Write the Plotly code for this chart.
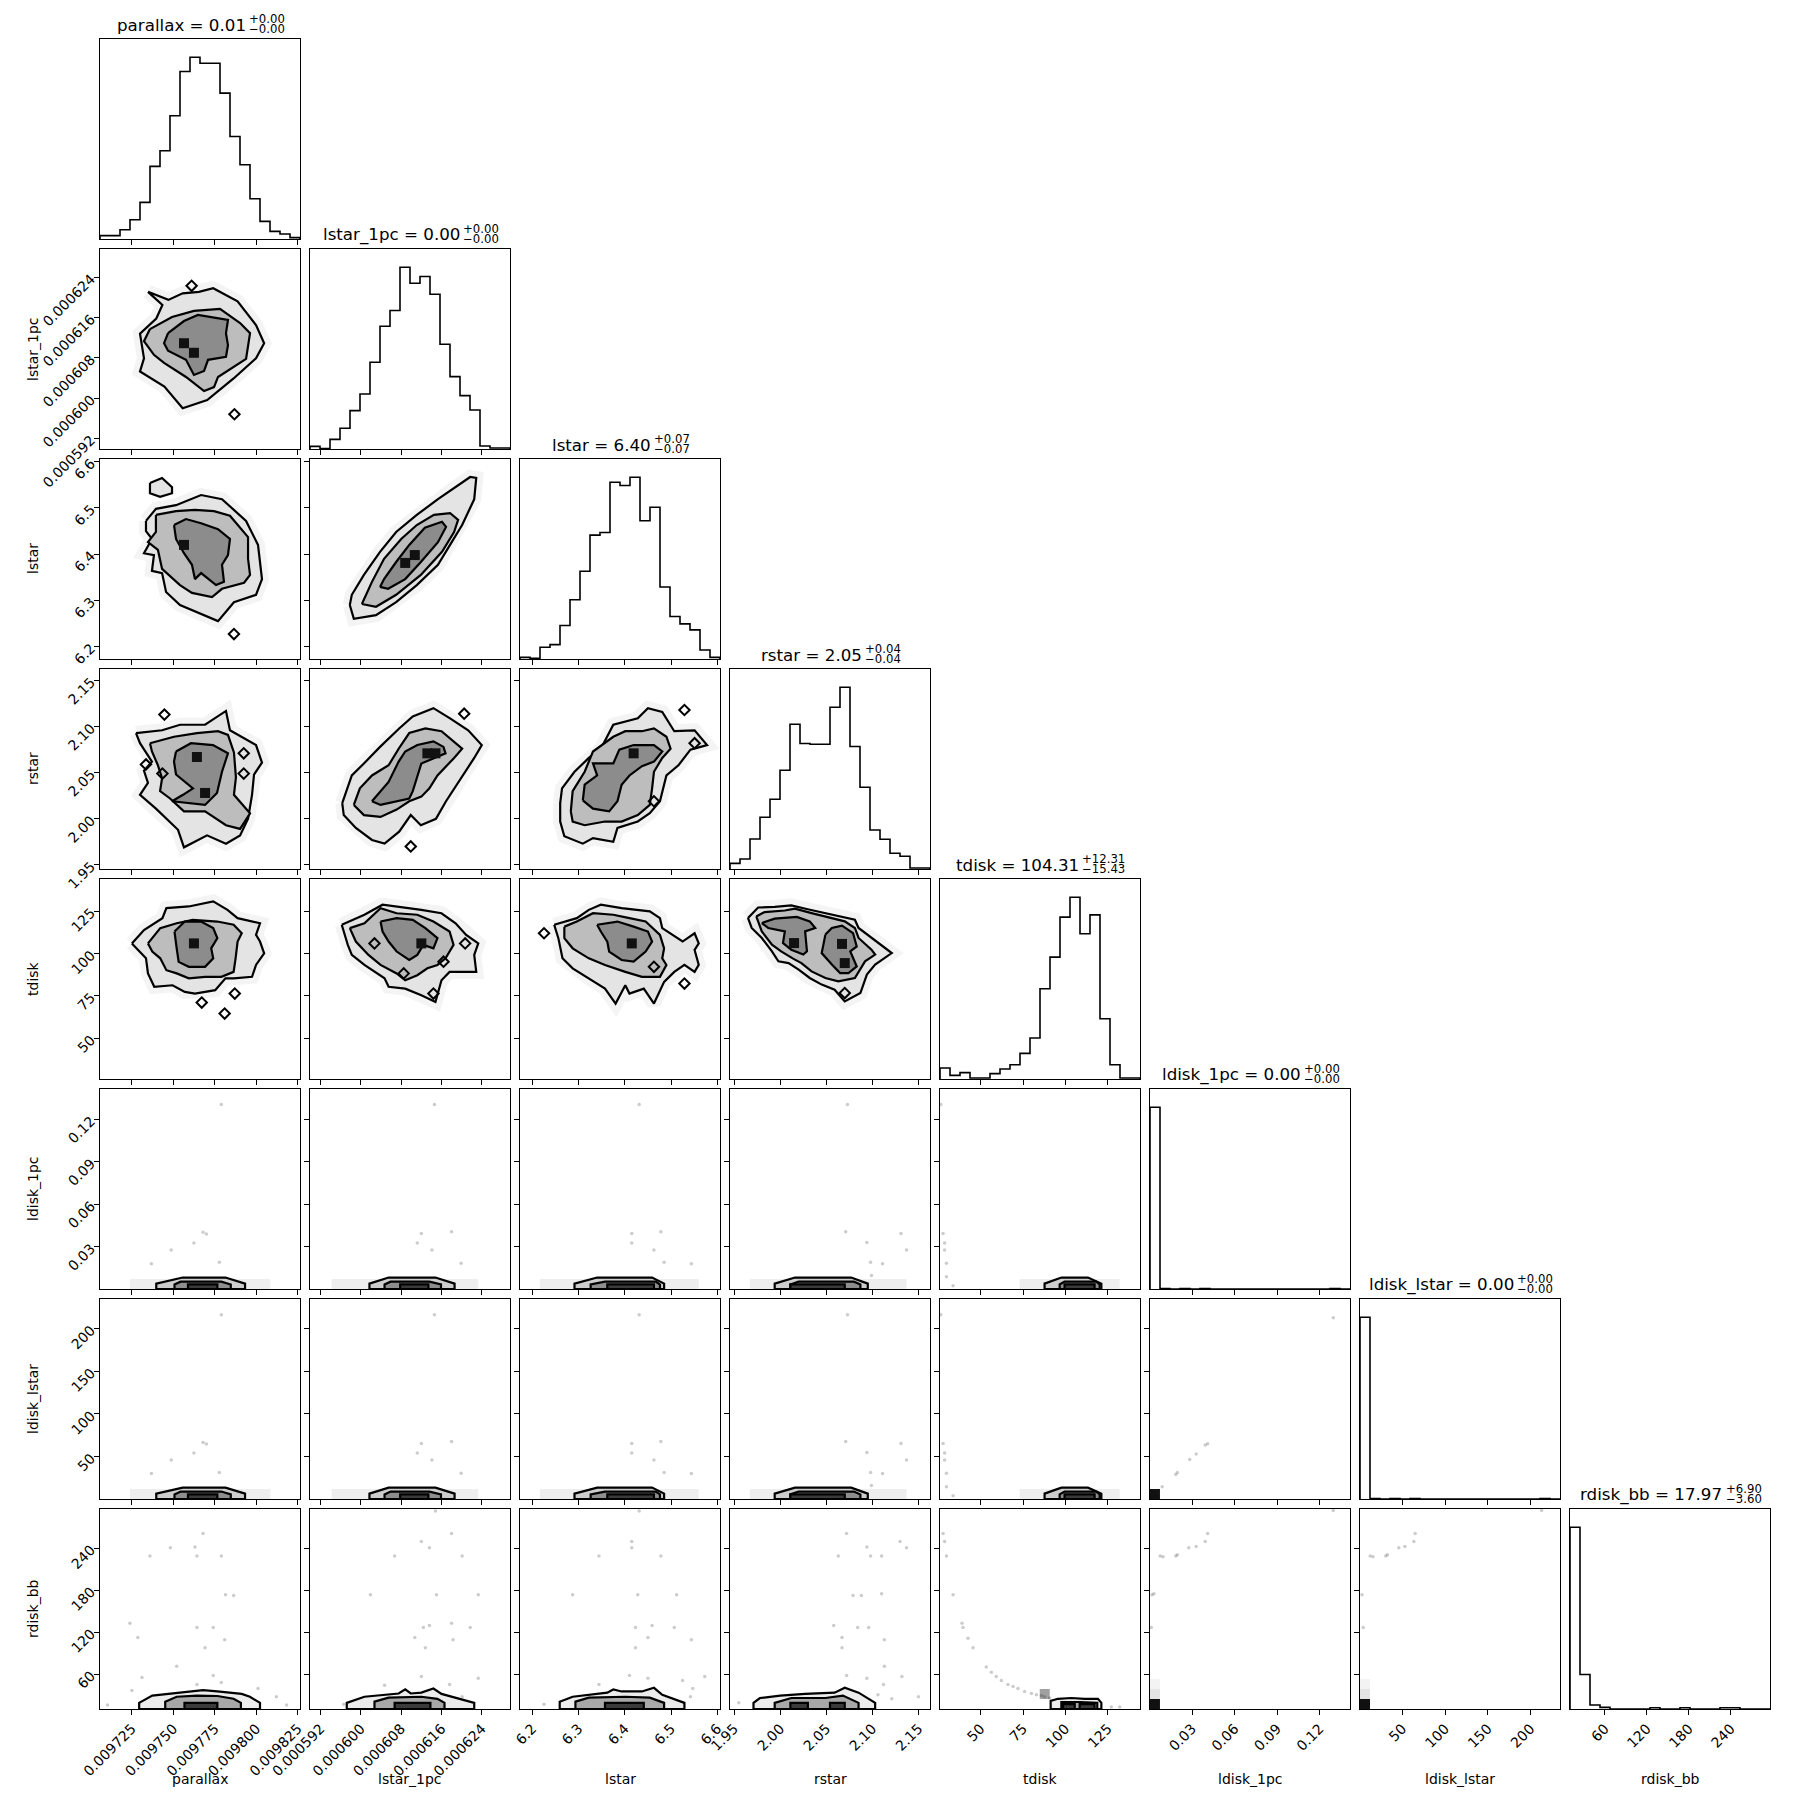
import numpy as np
import plotly.graph_objects as go

# page body has an 8 px margin, so the figure is drawn 8 px in from the window corner
OFF = 8
FW = 1809 - 2 * OFF
FONT = "DejaVu Sans"


def px(x):
    return (x - OFF) / FW


def py(y):
    return 1 - (y - OFF) / FW


names = ["parallax", "lstar_1pc", "lstar", "rstar", "tdisk", "ldisk_1pc", "ldisk_lstar", "rdisk_bb"]

# axis limits (chain min / max)
lim_parallax = [0.0097058, 0.0098263]
lim_lstar_1pc = [0.0005899, 0.0006296]
lim_lstar = [6.173, 6.606]
lim_rstar = [1.9455, 2.1625]
lim_tdisk = [26.0, 144.0]
lim_ldisk_1pc = [0.0003, 0.1415]
lim_ldisk_lstar = [0.5, 234.5]
lim_rdisk_bb = [10.0, 296.0]

# ticks
tv_parallax = [0.009725, 0.00975, 0.009775, 0.0098, 0.009825]
tt_parallax = ["0.009725", "0.009750", "0.009775", "0.009800", "0.009825"]
tv_lstar_1pc = [0.000592, 0.0006, 0.000608, 0.000616, 0.000624]
tt_lstar_1pc = ["0.000592", "0.000600", "0.000608", "0.000616", "0.000624"]
tv_lstar = [6.2, 6.3, 6.4, 6.5, 6.6]
tt_lstar = ["6.2", "6.3", "6.4", "6.5", "6.6"]
tv_rstar = [1.95, 2.0, 2.05, 2.1, 2.15]
tt_rstar = ["1.95", "2.00", "2.05", "2.10", "2.15"]
tv_tdisk = [50, 75, 100, 125]
tt_tdisk = ["50", "75", "100", "125"]
tv_ldisk_1pc = [0.03, 0.06, 0.09, 0.12]
tt_ldisk_1pc = ["0.03", "0.06", "0.09", "0.12"]
tv_ldisk_lstar = [50, 100, 150, 200]
tt_ldisk_lstar = ["50", "100", "150", "200"]
tv_rdisk_bb = [60, 120, 180, 240]
tt_rdisk_bb = ["60", "120", "180", "240"]

# 1d histograms (20 bins over the axis limits)
hist_parallax = [10, 10, 28, 58, 110, 218, 265, 370, 503, 546, 528, 528, 438, 308, 223, 121, 53, 23, 15, 4]
hist_lstar_1pc = [8, 1, 29, 62, 115, 165, 260, 368, 415, 545, 497, 517, 464, 314, 217, 160, 117, 9, 3, 3]
hist_lstar = [5, 2, 35, 43, 100, 177, 262, 370, 378, 528, 518, 543, 413, 453, 215, 127, 105, 87, 27, 5]
hist_rstar = [17, 30, 90, 155, 209, 296, 434, 376, 374, 374, 485, 545, 367, 245, 117, 89, 47, 38, 3, 3]
hist_tdisk = [33, 11, 19, 3, 3, 16, 30, 43, 77, 123, 271, 366, 486, 546, 436, 493, 181, 43, 3, 3]
hist_ldisk_1pc = [447, 1, 0, 1, 0, 1, 0, 0, 0, 0, 0, 0, 0, 0, 0, 0, 0, 0, 1, 0]
hist_ldisk_lstar = [447, 1, 0, 1, 0, 1, 0, 0, 0, 0, 0, 0, 0, 0, 0, 0, 0, 0, 1, 0]
hist_rdisk_bb = [447, 85, 10, 4, 0, 0, 0, 0, 3, 0, 0, 3, 0, 0, 0, 3, 3, 0, 0, 0]

# titles: median and quantile offsets
q_mid = ["0.01", "0.00", "6.40", "2.05", "104.31", "0.00", "0.00", "17.97"]
q_up = ["0.00", "0.00", "0.07", "0.04", "12.31", "0.00", "0.00", "6.90"]
q_dn = ["0.00", "0.00", "0.07", "0.04", "15.43", "0.00", "0.00", "3.60"]

# ---- 2d contours, rows 1-4 (outer / middle / inner levels) ----
p10_outer_x = [0.0097347, 0.0097470, 0.0097556, 0.0097654, 0.0097740, 0.0097887, 0.0097998, 0.0098047, 0.0097998,
               0.0097863, 0.0097704, 0.0097556, 0.0097446, 0.0097299, 0.0097323, 0.0097299, 0.0097397, 0.0097434]
p10_outer_y = [0.0006211, 0.0006195, 0.0006208, 0.0006211, 0.0006218, 0.0006192, 0.0006145, 0.0006109, 0.0006079,
               0.0006039, 0.0005996, 0.0005980, 0.0006023, 0.0006053, 0.0006079, 0.0006128, 0.0006158, 0.0006185]
p10_mid_x = [0.0097359, 0.0097492, 0.0097624, 0.0097781, 0.0097902, 0.0097962, 0.0097938, 0.0097841, 0.0097769,
             0.0097745, 0.0097685, 0.0097576, 0.0097444, 0.0097383, 0.0097323]
p10_mid_y = [0.0006137, 0.0006161, 0.0006173, 0.0006177, 0.0006149, 0.0006129, 0.0006078, 0.0006058, 0.0006042,
             0.0006022, 0.0006014, 0.0006042, 0.0006070, 0.0006086, 0.0006113]
p10_in_x = [0.0097468, 0.0097564, 0.0097648, 0.0097829, 0.0097817, 0.0097829, 0.0097817, 0.0097709, 0.0097685,
            0.0097624, 0.0097576, 0.0097468, 0.0097444]
p10_in_y = [0.0006129, 0.0006153, 0.0006165, 0.0006155, 0.0006129, 0.0006105, 0.0006082, 0.0006076, 0.0006054,
            0.0006046, 0.0006076, 0.0006094, 0.0006109]

p20_outer_x = [0.0097335, 0.0097395, 0.0097516, 0.0097667, 0.0097793, 0.0097938, 0.0098010, 0.0098034, 0.0097998,
               0.0097865, 0.0097769, 0.0097540, 0.0097456, 0.0097432, 0.0097371, 0.0097383, 0.0097323, 0.0097371, 0.0097335]
p20_outer_y = [6.472, 6.498, 6.506, 6.528, 6.519, 6.472, 6.420, 6.346, 6.312, 6.296, 6.255, 6.290, 6.318, 6.359,
               6.364, 6.398, 6.402, 6.433, 6.450]
p20_isl_x = [0.0097359, 0.0097432, 0.0097492, 0.0097492, 0.0097420, 0.0097359]
p20_isl_y = [6.554, 6.565, 6.545, 6.532, 6.524, 6.532]
p20_mid_x = [0.0097395, 0.0097516, 0.0097630, 0.0097745, 0.0097841, 0.0097889, 0.0097950, 0.0097950, 0.0097962,
             0.0097926, 0.0097793, 0.0097733, 0.0097612, 0.0097540, 0.0097432, 0.0097407, 0.0097347, 0.0097395]
p20_mid_y = [6.485, 6.493, 6.496, 6.493, 6.483, 6.463, 6.437, 6.390, 6.355, 6.338, 6.325, 6.307, 6.316, 6.333,
             6.368, 6.409, 6.426, 6.448]
p20_in_x = [0.0097504, 0.0097576, 0.0097667, 0.0097769, 0.0097841, 0.0097829, 0.0097793, 0.0097805, 0.0097757,
            0.0097667, 0.0097630, 0.0097612, 0.0097564, 0.0097516]
p20_in_y = [6.463, 6.476, 6.467, 6.454, 6.433, 6.398, 6.377, 6.340, 6.333, 6.359, 6.346, 6.377, 6.402, 6.433]

p21_outer_x = [0.0005978, 0.0005986, 0.0006030, 0.0006070, 0.0006111, 0.0006153, 0.0006177, 0.0006201, 0.0006225,
               0.0006229, 0.0006217, 0.0006185, 0.0006153, 0.0006111, 0.0006070, 0.0006038, 0.0006006, 0.0005982]
p21_outer_y = [6.290, 6.260, 6.268, 6.296, 6.333, 6.377, 6.420, 6.463, 6.519, 6.565, 6.567, 6.543, 6.519, 6.485,
               6.448, 6.405, 6.355, 6.312]
p21_mid_x = [0.0006002, 0.0006030, 0.0006070, 0.0006119, 0.0006161, 0.0006185, 0.0006193, 0.0006177, 0.0006145,
             0.0006111, 0.0006080, 0.0006046, 0.0006022]
p21_mid_y = [6.292, 6.286, 6.312, 6.355, 6.405, 6.448, 6.474, 6.489, 6.485, 6.463, 6.433, 6.390, 6.340]
p21_in_x = [0.0006038, 0.0006054, 0.0006088, 0.0006119, 0.0006153, 0.0006169, 0.0006161, 0.0006127, 0.0006096,
            0.0006070, 0.0006046]
p21_in_y = [6.329, 6.325, 6.346, 6.383, 6.426, 6.459, 6.470, 6.457, 6.420, 6.383, 6.346]

p30_outer_x = [0.0097275, 0.0097432, 0.0097540, 0.0097691, 0.0097817, 0.0097841, 0.0097998, 0.0098034, 0.0097986,
               0.0097974, 0.0097950, 0.0097902, 0.0097817, 0.0097703, 0.0097564, 0.0097528, 0.0097395, 0.0097299,
               0.0097347, 0.0097323, 0.0097371, 0.0097299]
p30_outer_y = [2.093, 2.096, 2.102, 2.102, 2.117, 2.096, 2.080, 2.061, 2.048, 2.026, 2.000, 1.982, 1.973, 1.982,
               1.969, 1.988, 2.011, 2.026, 2.039, 2.052, 2.062, 2.082]
p30_mid_x = [0.0097359, 0.0097504, 0.0097642, 0.0097769, 0.0097829, 0.0097865, 0.0097877, 0.0097865, 0.0097962,
             0.0097902, 0.0097817, 0.0097691, 0.0097564, 0.0097480, 0.0097420, 0.0097432, 0.0097407, 0.0097371]
p30_mid_y = [2.082, 2.089, 2.093, 2.095, 2.091, 2.072, 2.045, 2.026, 2.006, 1.989, 1.993, 2.008, 2.008, 2.022,
             2.030, 2.044, 2.058, 2.073]
p30_in_x = [0.0097516, 0.0097606, 0.0097739, 0.0097829, 0.0097793, 0.0097763, 0.0097691, 0.0097582, 0.0097492,
            0.0097558, 0.0097618, 0.0097516, 0.0097504]
p30_in_y = [2.073, 2.082, 2.080, 2.071, 2.051, 2.028, 2.015, 2.017, 2.019, 2.026, 2.033, 2.048, 2.062]

p31_outer_x = [0.0005963, 0.0005982, 0.0006006, 0.0006038, 0.0006076, 0.0006103, 0.0006144, 0.0006177, 0.0006213,
               0.0006240, 0.0006225, 0.0006201, 0.0006169, 0.0006149, 0.0006119, 0.0006099, 0.0006076, 0.0006047,
               0.0006022, 0.0005990, 0.0005966]
p31_outer_y = [2.017, 2.047, 2.060, 2.078, 2.098, 2.111, 2.120, 2.109, 2.096, 2.080, 2.066, 2.046, 2.019, 2.000,
               1.993, 2.004, 1.986, 1.973, 1.977, 1.990, 2.004]
p31_mid_x = [0.0005986, 0.0005998, 0.0006022, 0.0006055, 0.0006075, 0.0006096, 0.0006128, 0.0006160, 0.0006201,
             0.0006185, 0.0006152, 0.0006136, 0.0006120, 0.0006096, 0.0006071, 0.0006039, 0.0006006]
p31_mid_y = [2.015, 2.033, 2.047, 2.058, 2.076, 2.093, 2.098, 2.095, 2.076, 2.066, 2.047, 2.033, 2.024, 2.019,
             2.010, 2.002, 2.004]
p31_in_x = [0.0006022, 0.0006055, 0.0006075, 0.0006088, 0.0006112, 0.0006144, 0.0006164, 0.0006168, 0.0006120,
            0.0006112, 0.0006103, 0.0006096, 0.0006071, 0.0006039]
p31_in_y = [2.019, 2.040, 2.062, 2.073, 2.080, 2.084, 2.078, 2.071, 2.060, 2.047, 2.030, 2.022, 2.019, 2.015]

p32_outer_x = [6.260, 6.264, 6.291, 6.322, 6.348, 6.375, 6.428, 6.450, 6.481, 6.507, 6.551, 6.578, 6.542, 6.516,
               6.490, 6.476, 6.454, 6.428, 6.384, 6.375, 6.331, 6.309, 6.269, 6.260]
p32_outer_y = [2.017, 2.033, 2.051, 2.066, 2.076, 2.102, 2.109, 2.120, 2.116, 2.095, 2.096, 2.080, 2.075, 2.058,
               2.047, 2.019, 2.006, 1.997, 1.990, 1.975, 1.979, 1.973, 1.981, 1.997]
p32_mid_x = [6.283, 6.287, 6.313, 6.331, 6.375, 6.401, 6.437, 6.463, 6.490, 6.499, 6.481, 6.463, 6.459, 6.454,
             6.428, 6.393, 6.357, 6.313, 6.287]
p32_mid_y = [2.008, 2.030, 2.051, 2.073, 2.089, 2.095, 2.095, 2.098, 2.089, 2.076, 2.066, 2.051, 2.033, 2.015,
             2.004, 1.997, 1.997, 1.993, 1.997]
p32_in_x = [6.309, 6.313, 6.340, 6.331, 6.375, 6.388, 6.419, 6.463, 6.481, 6.463, 6.437, 6.410, 6.393, 6.384,
            6.366, 6.331]
p32_in_y = [2.020, 2.037, 2.047, 2.060, 2.060, 2.075, 2.080, 2.080, 2.073, 2.062, 2.057, 2.047, 2.037, 2.019,
            2.008, 2.011]

p40_outer_x = [0.0097250, 0.0097323, 0.0097434, 0.0097458, 0.0097593, 0.0097740, 0.0097826, 0.0097887, 0.0098022,
               0.0097998, 0.0098022, 0.0098047, 0.0097998, 0.0097974, 0.0097863, 0.0097814, 0.0097752, 0.0097630,
               0.0097569, 0.0097495, 0.0097385, 0.0097347, 0.0097335]
p40_outer_y = [106.0, 113.9, 120.9, 126.8, 127.8, 130.8, 125.8, 120.9, 117.9, 111.0, 107.1, 100.1, 93.3, 86.3,
               85.4, 85.4, 78.4, 76.4, 77.4, 81.3, 80.4, 88.3, 97.2]
p40_mid_x = [0.0097347, 0.0097421, 0.0097520, 0.0097617, 0.0097765, 0.0097863, 0.0097912, 0.0097887, 0.0097875,
             0.0097863, 0.0097789, 0.0097691, 0.0097593, 0.0097520, 0.0097458, 0.0097421, 0.0097373]
p40_mid_y = [106.0, 115.0, 117.9, 119.9, 118.9, 117.0, 112.0, 107.1, 97.2, 89.2, 86.3, 86.3, 85.4, 88.3, 90.2,
             97.2, 101.2]
p40_in_x = [0.0097507, 0.0097569, 0.0097667, 0.0097740, 0.0097765, 0.0097728, 0.0097740, 0.0097691, 0.0097593,
            0.0097532, 0.0097520]
p40_in_y = [113.0, 118.9, 118.9, 115.0, 109.1, 103.1, 97.2, 92.2, 92.2, 95.1, 103.1]

p41_outer_x = [0.0005962, 0.0006007, 0.0006043, 0.0006071, 0.0006120, 0.0006160, 0.0006188, 0.0006209, 0.0006233,
               0.0006225, 0.0006229, 0.0006176, 0.0006160, 0.0006148, 0.0006120, 0.0006088, 0.0006055, 0.0006047,
               0.0006007, 0.0005982, 0.0005974]
p41_outer_y = [117.0, 122.9, 128.8, 127.8, 125.8, 123.8, 117.9, 111.0, 106.0, 99.2, 89.2, 89.2, 84.3, 71.4, 75.4,
               79.3, 80.4, 85.4, 93.3, 99.2, 105.1]
p41_mid_x = [0.0005978, 0.0006007, 0.0006039, 0.0006071, 0.0006112, 0.0006144, 0.0006176, 0.0006184, 0.0006168,
             0.0006152, 0.0006132, 0.0006112, 0.0006088, 0.0006071, 0.0006039, 0.0006015, 0.0005990]
p41_mid_y = [115.0, 117.9, 126.8, 123.8, 122.9, 118.9, 113.0, 105.1, 97.2, 93.3, 91.3, 87.2, 84.3, 88.3, 93.3,
             99.2, 107.1]
p41_in_x = [0.0006039, 0.0006071, 0.0006103, 0.0006128, 0.0006152, 0.0006144, 0.0006124, 0.0006112, 0.0006096,
            0.0006071, 0.0006055, 0.0006043]
p41_in_y = [118.9, 120.9, 119.9, 115.0, 109.1, 103.1, 105.1, 99.2, 96.2, 101.2, 107.1, 113.0]

p42_outer_x = [6.247, 6.296, 6.322, 6.348, 6.393, 6.454, 6.476, 6.481, 6.525, 6.551, 6.560, 6.551, 6.560, 6.551,
               6.529, 6.507, 6.485, 6.463, 6.441, 6.410, 6.401, 6.380, 6.357, 6.322, 6.287, 6.265, 6.256]
p42_outer_y = [117.0, 120.9, 125.8, 128.8, 126.8, 124.9, 120.9, 115.0, 107.1, 112.0, 106.0, 102.1, 93.3, 89.2,
               93.3, 89.2, 83.3, 70.5, 79.3, 76.4, 81.3, 70.5, 79.3, 85.4, 91.3, 97.2, 109.1]
p42_mid_x = [6.269, 6.296, 6.331, 6.375, 6.410, 6.445, 6.476, 6.485, 6.481, 6.490, 6.476, 6.437, 6.401, 6.357,
             6.322, 6.287, 6.269]
p42_mid_y = [115.9, 118.9, 123.8, 122.9, 120.9, 118.9, 111.0, 103.1, 97.2, 93.3, 86.3, 86.3, 89.2, 93.3, 97.2,
             103.1, 109.1]
p42_in_x = [6.340, 6.384, 6.419, 6.450, 6.459, 6.445, 6.419, 6.393, 6.366, 6.362, 6.348]
p42_in_y = [117.0, 118.9, 115.9, 113.0, 107.1, 101.2, 95.2, 96.2, 101.2, 107.1, 113.0]

p43_outer_x = [1.965, 1.976, 1.994, 2.012, 2.031, 2.049, 2.063, 2.081, 2.085, 2.099, 2.121, 2.103, 2.094, 2.087,
               2.070, 2.059, 2.045, 2.032, 2.020, 2.009, 1.998, 1.991, 1.980, 1.969]
p43_outer_y = [121.0, 127.2, 127.5, 128.4, 126.0, 123.9, 121.9, 120.0, 115.1, 109.2, 100.3, 93.5, 87.6, 76.7,
               71.8, 78.7, 81.7, 85.6, 90.5, 94.4, 95.4, 101.3, 109.2, 115.1]
p43_mid_x = [1.974, 1.983, 2.005, 2.016, 2.034, 2.056, 2.070, 2.081, 2.085, 2.099, 2.103, 2.092, 2.081, 2.063,
             2.049, 2.034, 2.023, 2.014, 2.001, 1.991, 1.980]
p43_mid_y = [121.9, 124.5, 125.4, 126.5, 123.9, 121.0, 119.0, 115.1, 109.2, 102.3, 99.4, 95.4, 85.6, 83.6, 85.6,
             89.5, 94.4, 97.0, 101.3, 105.3, 113.1]
p43_inA_x = [1.980, 1.994, 2.018, 2.032, 2.038, 2.027, 2.029, 2.025, 2.012, 2.003, 2.005, 1.987]
p43_inA_y = [118.0, 120.6, 121.6, 119.0, 115.1, 113.1, 101.3, 99.4, 102.3, 106.2, 113.1, 115.1]
p43_inB_x = [2.049, 2.056, 2.067, 2.079, 2.083, 2.076, 2.083, 2.074, 2.065, 2.056, 2.045]
p43_inB_y = [111.2, 115.1, 116.5, 112.1, 104.2, 101.3, 92.4, 88.5, 88.5, 93.5, 100.3]

# densest 2d-histogram cells
dark_cells = {
    (1, 0): ([0.0097564, 0.0097624], [0.0006109, 0.0006090]),
    (2, 0): ([0.0097564], [6.420]),
    (2, 1): ([0.0006088, 0.0006107], [6.381, 6.398]),
    (3, 0): ([0.0097642, 0.0097691], [2.067, 2.028]),
    (3, 1): ([0.0006132, 0.0006148], [2.071, 2.071]),
    (3, 2): ([6.419], [2.071]),
    (4, 0): ([0.0097624], [106.0]),
    (4, 1): ([0.0006120], [106.0]),
    (4, 2): ([6.415], [106.0]),
    (4, 3): ([2.015, 2.067, 2.070], [106.2, 105.7, 94.4]),
}

# tiny closed contour islands
islands = {
    (1, 0): ([0.0097610, 0.0097868], [0.0006223, 0.0005968]),
    (2, 0): ([0.0097865], [6.227]),
    (3, 0): ([0.0097446, 0.0097335, 0.0097434, 0.0097924, 0.0097924], [2.113, 2.059, 2.049, 2.071, 2.049]),
    (3, 1): ([0.0006205, 0.0006099], [2.114, 1.970]),
    (3, 2): ([6.529, 6.551, 6.463], [2.118, 2.082, 2.019]),
    (4, 0): ([0.0097671, 0.0097870, 0.0097809], [71.1, 76.4, 64.6]),
    (4, 1): ([0.0006207, 0.0006144, 0.0006164, 0.0006085, 0.0006027], [106.0, 76.4, 95.2, 88.3, 106.0]),
    (4, 2): ([6.225, 6.463, 6.529], [112.0, 92.2, 82.3]),
    (4, 3): ([2.070], [76.7]),
}

# ---- flat contours in the ldisk rows (same shape for ldisk_1pc and ldisk_lstar) ----
# per column: outer (L, a, b, R), middle (L, a, b, R), inner (L, R), cell strip (L, R)
flat_c0 = ([0.0097397, 0.0097556, 0.0097814, 0.0097932], [0.0097507, 0.0097544, 0.0097789, 0.0097846],
           [0.0097588, 0.0097765], [0.0097238, 0.0098084])
flat_c1 = ([0.0006017, 0.0006055, 0.0006148, 0.0006186], [0.0006047, 0.0006059, 0.0006136, 0.0006159],
           [0.0006078, 0.0006134], [0.0005942, 0.0006233])
flat_c2 = ([6.291, 6.340, 6.459, 6.485], [6.326, 6.357, 6.467, 6.476], [6.362, 6.463], [6.216, 6.560])
flat_c3 = ([1.994, 2.016, 2.077, 2.095], [2.011, 2.020, 2.080, 2.087], [2.011, 2.070], [1.967, 2.137])
flat_c4 = ([87.7, 97.6, 113.3, 121.2], [96.6, 99.5, 118.2, 120.2], [99.5, 117.2], [73.0, 132.0])
# levels: bottom, side, top, middle top, inner top, strip top
lev_ldisk_1pc = [0.0003, 0.0041, 0.0084, 0.0055, 0.0035, 0.0074]
lev_ldisk_lstar = [0.5, 6.8, 13.8, 9.2, 5.9, 12.2]

# ---- rdisk_bb row contours ----
p70_outer_x = [0.0097294, 0.0097294, 0.0097373, 0.0097520, 0.0097679, 0.0097765, 0.0097912, 0.0097961, 0.0098022, 0.0098022]
p70_outer_y = [10, 18.8, 29.2, 33.4, 36.9, 35.1, 31.6, 27.5, 18.8, 10]
p70_mid_x = [0.0097451, 0.0097451, 0.0097520, 0.0097642, 0.0097765, 0.0097863, 0.0097907, 0.0097907]
p70_mid_y = [10, 20.5, 27.5, 29.2, 28.6, 24.6, 18.8, 10]
p70_in_x = [0.0097567, 0.0097567, 0.0097765, 0.0097765]
p70_in_y = [10, 18.8, 18.8, 10]

p71_outer_x = [0.0005972, 0.0005972, 0.0006007, 0.0006075, 0.0006088, 0.0006099, 0.0006120, 0.0006144, 0.0006160,
               0.0006225, 0.0006225]
p71_outer_y = [10, 18.8, 27.5, 32.2, 38.0, 32.2, 33.4, 39.2, 31.6, 18.8, 10]
p71_mid_x = [0.0006027, 0.0006027, 0.0006055, 0.0006120, 0.0006152, 0.0006166, 0.0006166]
p71_mid_y = [10, 20.5, 26.3, 27.5, 24.6, 18.8, 10]
p71_in_x = [0.0006067, 0.0006067, 0.0006138, 0.0006138]
p71_in_y = [10, 18.8, 18.8, 10]

p72_outer_x = [6.259, 6.259, 6.287, 6.340, 6.362, 6.375, 6.393, 6.437, 6.463, 6.481, 6.529, 6.529]
p72_outer_y = [10, 20.5, 27.5, 31.6, 33.4, 38.0, 35.1, 35.1, 40.3, 30.3, 18.8, 10]
p72_mid_x = [6.293, 6.293, 6.322, 6.401, 6.454, 6.485, 6.485]
p72_mid_y = [10, 20.5, 26.3, 27.5, 26.3, 18.8, 10]
p72_in_x = [6.357, 6.357, 6.441, 6.441]
p72_in_y = [10, 18.8, 18.8, 10]

p73_outer_x = [1.971, 1.971, 1.978, 2.000, 2.027, 2.059, 2.070, 2.085, 2.103, 2.103]
p73_outer_y = [10, 18.8, 25.7, 29.2, 31.6, 33.4, 40.3, 33.4, 18.8, 10]
p73_mid_x = [1.994, 1.994, 2.012, 2.049, 2.068, 2.085, 2.085]
p73_mid_y = [10, 18.8, 25.7, 25.7, 29.2, 18.8, 10]
p73_inA_x = [2.011, 2.011, 2.030, 2.030]
p73_inB_x = [2.054, 2.054, 2.070, 2.070]
p73_in_y = [10, 18.8, 18.8, 10]

p74_outer_x = [91.3, 91.3, 95.6, 103.5, 111.3, 119.2, 121.2, 121.2]
p74_outer_y = [10, 21.7, 24.6, 25.7, 24.6, 24.6, 18.8, 10]
p74_mid_x = [97.6, 97.6, 108.4, 118.8, 118.8]
p74_mid_y = [10, 20.0, 20.0, 18.8, 10]
p74_inA_x = [98.6, 98.6, 105.5, 105.5]
p74_inB_x = [108.4, 108.4, 117.2, 117.2]
p74_in_y = [10, 17, 17, 10]

# ---- individual outlying samples ----
pts_c0_x = [0.0097789, 0.0097679, 0.0097699, 0.0097624, 0.0097487, 0.0097368, 0.0097777]
pts_c0_ld1 = [0.1305, 0.0403, 0.0391, 0.0328, 0.0278, 0.0182, 0.0191]
pts_c0_ldl = [216.2, 66.7, 64.9, 54.3, 46.1, 30.2, 31.6]
pts_c1_x = [0.0006146, 0.0006120, 0.0006112, 0.0006141, 0.0006180, 0.0006199]
pts_c1_ld1 = [0.1305, 0.0394, 0.0328, 0.0278, 0.0408, 0.0185]
pts_c1_ldl = [216.2, 65.3, 54.3, 46.1, 67.7, 30.7]
pts_c2_x = [6.431, 6.415, 6.415, 6.478, 6.463, 6.485, 6.544]
pts_c2_ld1 = [0.1305, 0.0394, 0.0328, 0.0408, 0.0278, 0.0191, 0.0182]
pts_c2_ldl = [216.2, 65.3, 54.3, 67.7, 46.1, 31.6, 30.2]
pts_c3_x = [2.073, 2.071, 2.094, 2.131, 2.137, 2.098, 2.111, 2.099]
pts_c3_ld1 = [0.1305, 0.0408, 0.0331, 0.0394, 0.0278, 0.0191, 0.0182, 0.0099]
pts_c3_ldl = [216.2, 67.7, 54.8, 65.3, 46.1, 31.6, 30.2, 16.4]
pts_c4_x = [26.5, 27.8, 28.7, 28.7, 29.8, 29.8, 33.7]
pts_c4_ld1 = [0.1305, 0.0394, 0.0328, 0.0278, 0.0185, 0.0089, 0.0026]
pts_c4_ldl = [216.2, 65.3, 54.3, 46.1, 30.7, 14.8, 4.3]

pts_r7c0_x = [0.0097238, 0.0097286, 0.0097359, 0.0097482, 0.0097630, 0.0097642, 0.0097679, 0.0097789, 0.0097814,
              0.0097863, 0.0097642, 0.0097740, 0.0097691, 0.0097809, 0.0097520, 0.0097311, 0.0097740, 0.0097789,
              0.0097642, 0.0098010, 0.0097250, 0.0098121, 0.0097103, 0.0098182]
pts_r7c0_y = [132.6, 112.1, 228.8, 240.5, 241.7, 228.8, 261.1, 228.8, 173.3, 172.2, 126.7, 126.7, 97.5, 109.2,
              71.2, 54.9, 57.8, 48.0, 44.9, 39.2, 36.3, 27.5, 15.8, 15.8]
pts_r7c1_x = [0.0006148, 0.0006120, 0.0006136, 0.0006180, 0.0006201, 0.0006067, 0.0006019, 0.0006150, 0.0006233,
              0.0006124, 0.0006136, 0.0006180, 0.0006217, 0.0006107, 0.0006128, 0.0006183, 0.0006047, 0.0006120,
              0.0006176, 0.0006233, 0.0006201, 0.0005966]
pts_r7c1_y = [293.1, 249.4, 240.5, 261.1, 228.8, 228.8, 173.3, 173.3, 173.3, 126.7, 129.5, 132.6, 126.7, 112.1,
              97.5, 109.2, 43.8, 56.6, 44.9, 53.8, 27.5, 16.9]
pts_r7c2_x = [6.431, 6.415, 6.415, 6.478, 6.344, 6.287, 6.428, 6.512, 6.423, 6.459, 6.507, 6.450, 6.423, 6.544,
              6.344, 6.410, 6.450, 6.525, 6.573, 6.547, 6.542, 6.225]
pts_r7c2_y = [293.1, 249.4, 240.5, 228.8, 228.8, 173.3, 173.3, 173.3, 126.7, 129.5, 126.7, 112.1, 97.5, 109.2,
              44.9, 57.8, 53.8, 50.9, 56.6, 39.2, 27.5, 16.9]
pts_r7c3_x = [2.063, 2.072, 2.094, 2.098, 2.110, 2.130, 2.137, 2.079, 2.088, 2.110, 2.058, 2.084, 2.096, 2.067,
              2.067, 2.113, 2.113, 2.072, 2.094, 2.112, 2.132, 2.150, 2.121, 2.106, 1.955]
pts_r7c3_y = [228.8, 261.1, 241.7, 228.8, 228.8, 249.4, 240.5, 172.2, 172.2, 174.7, 129.5, 126.7, 126.7, 112.1,
              97.5, 109.2, 71.2, 57.8, 53.8, 44.9, 56.6, 27.5, 24.6, 30.3, 18.8]
pts_r7c4_x = [27.8, 28.7, 29.8, 33.7, 39.0, 39.6, 42.5, 45.5, 53.3, 56.3, 59.2, 62.2, 66.1, 69.1, 72.0, 75.9,
              79.9, 82.9, 85.8, 87.7, 90.7, 95.6, 127.1, 132.0]
pts_r7c4_y = [261.1, 249.4, 228.8, 173.3, 132.6, 126.7, 111.0, 97.5, 70.1, 62.6, 56.6, 50.9, 44.9, 42.1, 39.2,
              35.1, 32.2, 30.3, 29.2, 27.5, 25.7, 22.8, 12.9, 12.9]
pts_r7c5_x = [0.0017, 0.0031, 0.0012, 0.0075, 0.0095, 0.0185, 0.0196, 0.0277, 0.0329, 0.0393, 0.0410, 0.1297]
pts_r7c5_y = [173.3, 174.7, 126.7, 228.8, 227.7, 228.8, 230.5, 240.5, 242.3, 249.4, 261.1, 293.7]
pts_r7c6_x = [2.9, 4.3, 12.4, 15.7, 30.6, 32.6, 45.9, 53.0, 63.5, 65.0, 213.0]
pts_r7c6_y = [173.3, 126.7, 228.8, 227.7, 228.8, 230.5, 240.5, 242.3, 249.4, 261.1, 293.7]
pts_r6c5_x = [0.0089, 0.0185, 0.0196, 0.0283, 0.0329, 0.0393, 0.0410, 0.1297]
pts_r6c5_y = [14.8, 29.3, 31.6, 46.8, 53.1, 63.7, 65.1, 212.5]

# corner cells of the ldisk panels (value, shade)
cells_r6c5 = ([0.0038], [6.35], ["#111111"])
cells_r7c5 = ([0.0038, 0.0038, 0.0038], [17.15, 31.45, 45.75], ["#111111", "#e4e4e4", "#f3f3f3"])
cells_r7c6 = ([6.35, 6.35, 6.35], [17.15, 31.45, 45.75], ["#111111", "#e4e4e4", "#f3f3f3"])
cells_r7c4 = ([87.8], [31.5], ["#a0a0a0"])

lims = [lim_parallax, lim_lstar_1pc, lim_lstar, lim_rstar, lim_tdisk, lim_ldisk_1pc, lim_ldisk_lstar, lim_rdisk_bb]
tvals = [tv_parallax, tv_lstar_1pc, tv_lstar, tv_rstar, tv_tdisk, tv_ldisk_1pc, tv_ldisk_lstar, tv_rdisk_bb]
ttext = [tt_parallax, tt_lstar_1pc, tt_lstar, tt_rstar, tt_tdisk, tt_ldisk_1pc, tt_ldisk_lstar, tt_rdisk_bb]
hists = [hist_parallax, hist_lstar_1pc, hist_lstar, hist_rstar, hist_tdisk, hist_ldisk_1pc, hist_ldisk_lstar, hist_rdisk_bb]

fig = go.Figure()


def ids(i, j):
    n = i * 8 + j + 1
    return ("x" if n == 1 else f"x{n}"), ("y" if n == 1 else f"y{n}")


def poly(i, j, xs, ys, fill, lw=2.2, lc="black"):
    xa, ya = ids(i, j)
    fig.add_trace(go.Scatter(x=list(xs) + [xs[0]], y=list(ys) + [ys[0]], mode="lines", fill="toself",
                             fillcolor=fill, line=dict(color=lc, width=lw), xaxis=xa, yaxis=ya,
                             hoverinfo="skip"))


def strip(i, j, xs, ys, fill):
    xa, ya = ids(i, j)
    fig.add_trace(go.Scatter(x=xs, y=ys, mode="lines", fill="toself", fillcolor=fill,
                             line=dict(width=0), xaxis=xa, yaxis=ya, hoverinfo="skip"))


def dots(i, j, xs, ys):
    xa, ya = ids(i, j)
    fig.add_trace(go.Scatter(x=xs, y=ys, mode="markers", xaxis=xa, yaxis=ya, hoverinfo="skip",
                             marker=dict(size=3.5, color="rgba(0,0,0,0.2)", line=dict(width=0))))


def cells(i, j, xs, ys, colors):
    xa, ya = ids(i, j)
    fig.add_trace(go.Scatter(x=xs, y=ys, mode="markers", xaxis=xa, yaxis=ya, hoverinfo="skip",
                             marker=dict(symbol="square", size=10, color=colors, line=dict(width=0))))


# diagonal histograms
for k in range(8):
    edges = np.linspace(lims[k][0], lims[k][1], 21)
    c = hists[k]
    xs = [edges[0]] + list(edges[:20]) + [edges[20], edges[20]]
    ys = [0] + c + [c[-1], 0]
    xa, ya = ids(k, k)
    fig.add_trace(go.Scatter(x=xs, y=ys, mode="lines", line=dict(color="black", width=1.6, shape="hv"),
                             xaxis=xa, yaxis=ya, hoverinfo="skip"))

# upper block of 2d panels
C_OUT, C_MID, C_IN = "#e4e4e4", "#bdbdbd", "#8c8c8c"
contours = {
    (1, 0): [(p10_outer_x, p10_outer_y, C_OUT), (p10_mid_x, p10_mid_y, C_MID), (p10_in_x, p10_in_y, C_IN)],
    (2, 0): [(p20_outer_x, p20_outer_y, C_OUT), (p20_isl_x, p20_isl_y, C_OUT), (p20_mid_x, p20_mid_y, C_MID),
             (p20_in_x, p20_in_y, C_IN)],
    (2, 1): [(p21_outer_x, p21_outer_y, C_OUT), (p21_mid_x, p21_mid_y, C_MID), (p21_in_x, p21_in_y, C_IN)],
    (3, 0): [(p30_outer_x, p30_outer_y, C_OUT), (p30_mid_x, p30_mid_y, C_MID), (p30_in_x, p30_in_y, C_IN)],
    (3, 1): [(p31_outer_x, p31_outer_y, C_OUT), (p31_mid_x, p31_mid_y, C_MID), (p31_in_x, p31_in_y, C_IN)],
    (3, 2): [(p32_outer_x, p32_outer_y, C_OUT), (p32_mid_x, p32_mid_y, C_MID), (p32_in_x, p32_in_y, C_IN)],
    (4, 0): [(p40_outer_x, p40_outer_y, C_OUT), (p40_mid_x, p40_mid_y, C_MID), (p40_in_x, p40_in_y, C_IN)],
    (4, 1): [(p41_outer_x, p41_outer_y, C_OUT), (p41_mid_x, p41_mid_y, C_MID), (p41_in_x, p41_in_y, C_IN)],
    (4, 2): [(p42_outer_x, p42_outer_y, C_OUT), (p42_mid_x, p42_mid_y, C_MID), (p42_in_x, p42_in_y, C_IN)],
    (4, 3): [(p43_outer_x, p43_outer_y, C_OUT), (p43_mid_x, p43_mid_y, C_MID), (p43_inA_x, p43_inA_y, C_IN),
             (p43_inB_x, p43_inB_y, C_IN)],
}
for (i, j), polys in contours.items():
    # faint low-density cells just outside the outermost contour
    hx, hy, _ = polys[0]
    poly(i, j, hx, hy, "#f4f4f4", lw=14, lc="#f4f4f4")
    for xs, ys, col in polys:
        poly(i, j, xs, ys, col)
    dx, dy = dark_cells[(i, j)]
    cells(i, j, dx, dy, "#111111")
    ix, iy = islands.get((i, j), ([], []))
    if ix:
        xa, ya = ids(i, j)
        fig.add_trace(go.Scatter(x=ix, y=iy, mode="markers", xaxis=xa, yaxis=ya, hoverinfo="skip",
                                 marker=dict(symbol="diamond-open", size=8, color="black", line=dict(width=2))))

# ldisk rows: flat contours hugging the lower limit
flat_cols = [flat_c0, flat_c1, flat_c2, flat_c3, flat_c4]
pts_cols = [(pts_c0_x, pts_c0_ld1, pts_c0_ldl), (pts_c1_x, pts_c1_ld1, pts_c1_ldl), (pts_c2_x, pts_c2_ld1, pts_c2_ldl),
            (pts_c3_x, pts_c3_ld1, pts_c3_ldl), (pts_c4_x, pts_c4_ld1, pts_c4_ldl)]
for i, lev in ((5, lev_ldisk_1pc), (6, lev_ldisk_lstar)):
    b, h1, ht, hm, hi, hs = lev
    for j in range(5):
        o, m, n_, s = flat_cols[j]
        strip(i, j, [s[0], s[0], s[1], s[1]], [b, hs, hs, b], "#eeeeee")
        poly(i, j, [o[0], o[0], o[1], o[2], o[3], o[3]], [b, h1, ht, ht, h1, b], "#cdcdcd")
        poly(i, j, [m[0], m[0], m[1], m[2], m[3], m[3]], [b, hi, hm, hm, hi, b], "#8e8e8e")
        poly(i, j, [n_[0], n_[0], n_[1], n_[1]], [b, hi, hi, b], "#3a3a3a")
        pxs, p1, p2 = pts_cols[j]
        dots(i, j, pxs, p1 if i == 5 else p2)

# rdisk_bb row
R_OUT, R_MID, R_IN = "#ececec", "#a8a8a8", "#3a3a3a"
row7 = {
    0: [(p70_outer_x, p70_outer_y, R_OUT), (p70_mid_x, p70_mid_y, R_MID), (p70_in_x, p70_in_y, R_IN)],
    1: [(p71_outer_x, p71_outer_y, R_OUT), (p71_mid_x, p71_mid_y, R_MID), (p71_in_x, p71_in_y, R_IN)],
    2: [(p72_outer_x, p72_outer_y, R_OUT), (p72_mid_x, p72_mid_y, R_MID), (p72_in_x, p72_in_y, R_IN)],
    3: [(p73_outer_x, p73_outer_y, R_OUT), (p73_mid_x, p73_mid_y, R_MID), (p73_inA_x, p73_in_y, R_IN),
        (p73_inB_x, p73_in_y, R_IN)],
    4: [(p74_outer_x, p74_outer_y, R_OUT), (p74_mid_x, p74_mid_y, R_MID), (p74_inA_x, p74_in_y, R_IN),
        (p74_inB_x, p74_in_y, R_IN)],
}
pts_r7 = [(pts_r7c0_x, pts_r7c0_y), (pts_r7c1_x, pts_r7c1_y), (pts_r7c2_x, pts_r7c2_y), (pts_r7c3_x, pts_r7c3_y),
          (pts_r7c4_x, pts_r7c4_y)]
cells(7, 4, *cells_r7c4)
for j, polys in row7.items():
    dots(7, j, *pts_r7[j])
    for xs, ys, col in polys:
        poly(7, j, xs, ys, col)

cells(6, 5, *cells_r6c5)
dots(6, 5, pts_r6c5_x, pts_r6c5_y)
cells(7, 5, *cells_r7c5)
dots(7, 5, pts_r7c5_x, pts_r7c5_y)
cells(7, 6, *cells_r7c6)
dots(7, 6, pts_r7c6_x, pts_r7c6_y)

# axes: panel (i, j) spans window pixels x 100+210j .. 300+210j, y 39+210i .. 239+210i
tickfont = dict(family=FONT, size=14, color="black")
layout_axes = {}
for i in range(8):
    for j in range(i + 1):
        n = i * 8 + j + 1
        xa, ya = ids(i, j)
        xkey = "xaxis" if n == 1 else f"xaxis{n}"
        ykey = "yaxis" if n == 1 else f"yaxis{n}"
        common = dict(showline=True, mirror=True, linecolor="black", linewidth=1.1, showgrid=False,
                      zeroline=False, tickfont=tickfont, tickcolor="black", tickwidth=1.1, ticklen=5,
                      automargin=False)
        layout_axes[xkey] = dict(domain=[px(100 + 210 * j), px(300 + 210 * j)], anchor=ya,
                                 range=lims[j], ticks="outside", tickmode="array", tickvals=tvals[j],
                                 ticktext=ttext[j], showticklabels=(i == 7), tickangle=-45, **common)
        ydom = [py(239 + 210 * i), py(39 + 210 * i)]
        if i == j:
            layout_axes[ykey] = dict(domain=ydom, anchor=xa, range=[0, 1.1 * max(hists[i])], ticks="",
                                     showticklabels=False, **common)
        else:
            layout_axes[ykey] = dict(domain=ydom, anchor=xa, range=lims[i], ticks="outside", tickmode="array",
                                     tickvals=tvals[i], ticktext=ttext[i], showticklabels=(j == 0),
                                     tickangle=-45, **common)

# text widths (DejaVu Sans advance widths, em)
cw = {"a": .613, "b": .635, "c": .550, "d": .635, "e": .615, "i": .278, "k": .579, "l": .278, "p": .635,
      "r": .411, "s": .521, "t": .392, "x": .592, "_": .5, " ": .318, "=": .838, ".": .318, "+": .838, "\u2212": .838}


def tw(s, size):
    return sum(cw.get(ch, 0.636) for ch in s) * size


ann = []
for k in range(8):
    # titles
    main = f"{names[k]} = {q_mid[k]}"
    up = "+" + q_up[k]
    dn = "\u2212" + q_dn[k]
    wm = tw(main, 16.7)
    ws = max(tw(up, 11.7), tw(dn, 11.7))
    cx = 200 + 210 * k
    gap = 3
    x0 = cx - (wm + ws + gap) / 2
    top = 210 * k
    ann.append(dict(text=main, x=px(x0), y=py(top + 24.8), xref="paper", yref="paper", xanchor="left",
                    yanchor="middle", showarrow=False, borderpad=0, font=dict(family=FONT, size=16.7, color="black")))
    for txt, yy in ((up, 18.8), (dn, 29.2)):
        ann.append(dict(text=txt, x=px(x0 + wm + gap), y=py(top + yy), xref="paper", yref="paper",
                        xanchor="left", yanchor="middle", showarrow=False, borderpad=0,
                        font=dict(family=FONT, size=11.7, color="black")))
    # x labels
    ann.append(dict(text=names[k], x=px(cx), y=py(1769), xref="paper", yref="paper", xanchor="center",
                    yanchor="top", showarrow=False, font=dict(family=FONT, size=14, color="black")))
    # y labels
    if k > 0:
        ann.append(dict(text=names[k], x=px(33), y=py(139 + 210 * k), xref="paper", yref="paper",
                        xanchor="center", yanchor="middle", textangle=-90, showarrow=False,
                        font=dict(family=FONT, size=14, color="black")))

fig.update_layout(template="none", width=FW, height=FW, margin=dict(l=0, r=0, t=0, b=0, pad=0),
                  paper_bgcolor="white", plot_bgcolor="white", showlegend=False, annotations=ann,
                  font=dict(family=FONT), **layout_axes)

fig.write_html("out.html")
